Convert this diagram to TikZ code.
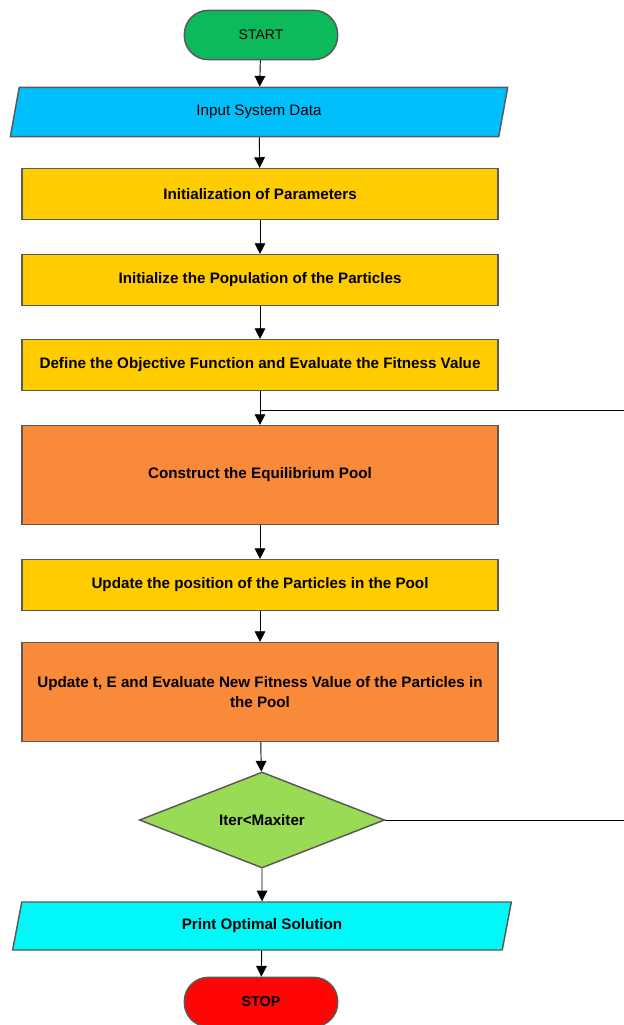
\documentclass[tikz,border=0pt]{standalone}
\usepackage{fontspec}
\setmainfont{Liberation Sans}
\usetikzlibrary{shapes.geometric,arrows.meta}
\definecolor{startgreen}{HTML}{0CBA5C}
\definecolor{inblue}{HTML}{00BFFA}
\definecolor{procyellow}{HTML}{FFCC00}
\definecolor{poolorange}{HTML}{F98A3A}
\definecolor{decgreen}{HTML}{9ADB55}
\definecolor{outcyan}{HTML}{00F8F8}
\definecolor{stopred}{HTML}{FF0505}
\tikzset{
  base/.style={draw=black!65,line width=1.1pt,align=center,inner sep=2pt,
    font=\fontsize{11.4}{15}\selectfont\bfseries},
  termbox/.style={base,rounded corners=18pt,minimum width=115pt,minimum height=37pt},
  iobox/.style={base,trapezium,trapezium left angle=65,trapezium right angle=115,
    trapezium stretches body,minimum height=37pt},
  procbox/.style={base,fill=procyellow,minimum width=357pt,minimum height=38pt},
  poolbox/.style={procbox,fill=poolorange,minimum height=74pt},
  decbox/.style={base,diamond,fill=decgreen,aspect=2.55,inner sep=0pt,
    minimum width=184pt,minimum height=72pt},
  flow/.style={-{Triangle[width=8pt,length=8pt]},line width=0.7pt},
  loopline/.style={line width=0.7pt}
}
\begin{document}
\begin{tikzpicture}[x=0.75pt,y=-0.75pt]
  \useasboundingbox (0,0) rectangle (624,1025);
  % flow chart boxes
  \node[termbox,fill=startgreen,font=\fontsize{10.5}{14}\selectfont] (start) at (261,35) {START};
  \node[iobox,fill=inblue,minimum width=373pt,font=\fontsize{11.4}{15}\selectfont] (input) at (259,112) {Input System Data};
  \node[procbox] (init) at (260,194) {Initialization of Parameters};
  \node[procbox] (pop) at (260,280) {Initialize the Population of the Particles};
  \node[procbox] (obj) at (260,365) {Define the Objective Function and Evaluate the Fitness Value};
  \node[poolbox] (pool) at (260,475) {Construct the Equilibrium Pool};
  \node[procbox] (upd) at (260,585) {Update the position of the Particles in the Pool};
  \node[poolbox] (newfit) at (260,692) {Update t, E and Evaluate New Fitness Value of the Particles in\\the Pool};
  \node[decbox] (check) at (262,820) {Iter<Maxiter};
  \node[iobox,fill=outcyan,minimum width=374pt,minimum height=36pt] (print) at (262,926) {Print Optimal Solution};
  \node[termbox,fill=stopred,font=\fontsize{10.8}{14}\selectfont\bfseries] (stop) at (261,1002) {STOP};
  % loop lines
  \coordinate (join) at (260,410);
  \coordinate (edgeA) at (624,410);
  \coordinate (edgeB) at (624,820);
  \draw[loopline] (join) -- (edgeA);
  \draw[loopline] (check.east) -- (edgeB);
  % arrows
  \draw[flow] (start) -- (input);
  \draw[flow] (input) -- (init);
  \draw[flow] (init) -- (pop);
  \draw[flow] (pop) -- (obj);
  \draw[flow] (obj) -- (pool);
  \draw[flow] (pool) -- (upd);
  \draw[flow] (upd) -- (newfit);
  \draw[flow] (newfit) -- (check);
  \draw[flow] (check) -- (print);
  \draw[flow] (print) -- (stop);
\end{tikzpicture}
\end{document}
